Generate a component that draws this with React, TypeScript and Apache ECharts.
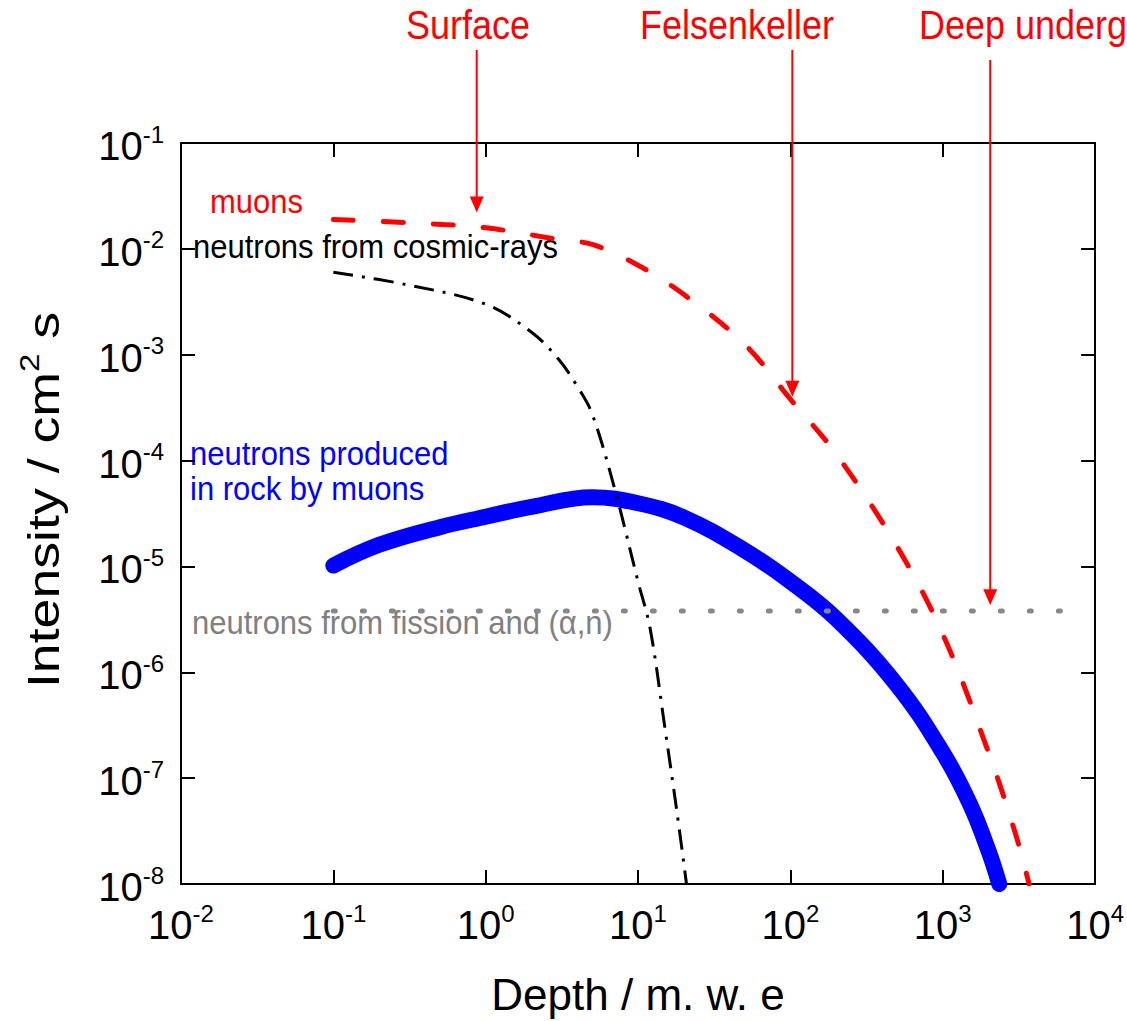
import React, { useEffect, useRef } from "react";
import * as echarts from "echarts";

// ---- data (depth in m.w.e., intensity in 1/(cm^2 s)) ----
const muonDepth = [0.1, 0.3, 1, 3, 5, 10, 20, 50, 100, 200, 500, 1000, 2000, 3000, 3690];
const muonFlux = [0.0189, 0.0177, 0.0158, 0.01225, 0.011, 0.007, 0.0037, 0.00126, 3.8e-4, 1.15e-4, 1.55e-5, 2.3e-6, 1.74e-7, 3.0e-8, 1e-8];

const cosmicDepth = [0.1, 0.3, 1, 2, 3, 4, 5, 7, 10, 12, 15, 18, 20.8];
const cosmicFlux = [6.0e-3, 4.6e-3, 3.0e-3, 1.63e-3, 9.1e-4, 5.0e-4, 2.76e-4, 5.5e-5, 7.2e-6, 2.6e-6, 3.0e-7, 4.8e-8, 1e-8];

const rockDepth = [0.1, 0.2, 0.5, 1, 2, 5, 10, 20, 50, 100, 200, 500, 1000, 1500, 2000, 2350];
const rockFlux = [1.02e-5, 1.6e-5, 2.35e-5, 2.95e-5, 3.65e-5, 4.5e-5, 3.95e-5, 2.9e-5, 1.42e-5, 7.2e-6, 3.2e-6, 7.6e-7, 1.75e-7, 5.8e-8, 2.05e-8, 1e-8];

const fissionDepth = [0.1, 7500];
const fissionFlux = [3.8e-6, 3.8e-6];

const arrowLabels = ["Surface", "Felsenkeller", "Deep underground"];
const arrowDepth = [0.873, 103, 2050];
const arrowTip = [0.022, 4.0e-4, 4.3e-6];

const FONT = "'Liberation Sans', Arial, Helvetica, sans-serif";

const pair = (xs: number[], ys: number[]) => xs.map((x, i) => [x, ys[i]]);
const expLabel = (v: number) => `{b|10}{s|${Math.round(Math.log10(v))}}`;

export default function App() {
  const ref = useRef<HTMLDivElement>(null);
  useEffect(() => {
    const chart = echarts.init(ref.current!, null, { renderer: "svg" });
    const rich = {
      b: { fontSize: 40, fontFamily: FONT, color: "#000", lineHeight: 42, padding: [6, 0, 0, 0] },
      s: { fontSize: 24, fontFamily: FONT, color: "#000", lineHeight: 24, verticalAlign: "top" },
    };
    const axisBase = {
      type: "log" as const,
      logBase: 10,
      axisLine: { onZero: false, lineStyle: { color: "#000", width: 2 } },
      axisTick: { inside: true, length: 14, lineStyle: { color: "#000", width: 2 } },
      splitLine: { show: false },
      minorTick: { show: false },
    };
    chart.setOption({
      animation: false,
      backgroundColor: "#fff",
      grid: { left: 181, right: 31, top: 143, bottom: 134, containLabel: false },
      xAxis: [
        {
          ...axisBase,
          min: 0.01,
          max: 10000,
          position: "bottom",
          axisLabel: { margin: 17, formatter: expLabel, rich },
          name: "Depth / m. w. e",
          nameLocation: "middle",
          nameGap: 88,
          nameTextStyle: { fontSize: 44, fontFamily: FONT, color: "#000" },
        },
        { ...axisBase, min: 0.01, max: 10000, position: "top", axisLabel: { show: false } },
      ],
      yAxis: [
        {
          ...axisBase,
          min: 1e-8,
          max: 0.1,
          position: "left",
          axisLabel: { margin: 17, formatter: expLabel, rich },
        },
        { ...axisBase, min: 1e-8, max: 0.1, position: "right", axisLabel: { show: false } },
      ],
      series: [
        {
          type: "line",
          name: "rock",
          data: pair(rockDepth, rockFlux),
          smooth: 0.4,
          symbol: "none",
          clip: true,
          z: 2,
          lineStyle: { color: "#0000ff", width: 16, cap: "round" },
        },
        {
          type: "line",
          name: "fission",
          data: pair(fissionDepth, fissionFlux),
          symbol: "none",
          clip: true,
          z: 3,
          lineStyle: { color: "#888888", width: 5, type: [2, 27], cap: "round" },
        },
        {
          type: "line",
          name: "cosmic",
          data: pair(cosmicDepth, cosmicFlux),
          smooth: 0.35,
          symbol: "none",
          clip: true,
          z: 4,
          lineStyle: { color: "#000000", width: 3, type: [20, 9, 3, 9] },
        },
        {
          type: "line",
          name: "muons",
          data: pair(muonDepth, muonFlux),
          smooth: 0.35,
          symbol: "none",
          clip: true,
          z: 5,
          lineStyle: { color: "#ff0000", width: 5, type: [20, 30], cap: "round" },
        },
      ],
    });

    const arrowTop = [50, 50, 60];
    const labelX = [406, 640, 919];
    const graphics: any[] = [];
    arrowDepth.forEach((d, i) => {
      const p = chart.convertToPixel({ seriesIndex: 0 }, [d, arrowTip[i]]) as number[];
      const px = p[0];
      const py = p[1];
      graphics.push({
        type: "line",
        shape: { x1: px, y1: arrowTop[i], x2: px, y2: py - 12 },
        style: { stroke: "#ff0000", lineWidth: 2 },
        z: 10,
      });
      graphics.push({
        type: "polygon",
        shape: { points: [[px - 7, py - 16], [px + 7, py - 16], [px, py]] },
        style: { fill: "#ff0000" },
        z: 10,
      });
      graphics.push({
        type: "text",
        x: labelX[i],
        y: 25,
        scaleY: 1.15,
        style: { text: arrowLabels[i], fill: "#ff0000", font: `36px ${FONT}`, verticalAlign: "middle" },
        z: 10,
      });
    });
    const txt = (text: string, x: number, y: number, color: string) => ({
      type: "text",
      x,
      y,
      z: 0,
      scaleY: 1.08,
      style: { text, fill: color, font: `31px ${FONT}`, verticalAlign: "middle" },
    });
    graphics.push(txt("muons", 210, 202, "#ff0000"));
    graphics.push(txt("neutrons from cosmic-rays", 193, 247, "#000000"));
    graphics.push(txt("neutrons produced", 190, 454, "#0000ff"));
    graphics.push(txt("in rock by muons", 190, 489, "#0000ff"));
    graphics.push(txt("neutrons from fission and (\u03b1,n)", 192, 623, "#808080"));
    // y-axis title
    graphics.push({
      type: "text",
      x: 40,
      y: 500,
      rotation: Math.PI / 2,
      scaleX: 1.22,
      z: 10,
      style: {
        text: "{a|Intensity / cm}{s|2}{a| s}",
        align: "center",
        verticalAlign: "middle",
        rich: {
          a: { fontSize: 44, fontFamily: FONT, fill: "#000", lineHeight: 48, padding: [8, 0, 0, 0] },
          s: { fontSize: 27, fontFamily: FONT, fill: "#000", lineHeight: 27, verticalAlign: "top" },
        },
      },
    });
    chart.setOption({ graphic: graphics });

    return () => chart.dispose();
  }, []);
  return (
    <div
      ref={ref}
      style={{ position: "absolute", left: 0, top: 0, width: 1127, height: 1021, background: "#fff" }}
    />
  );
}
